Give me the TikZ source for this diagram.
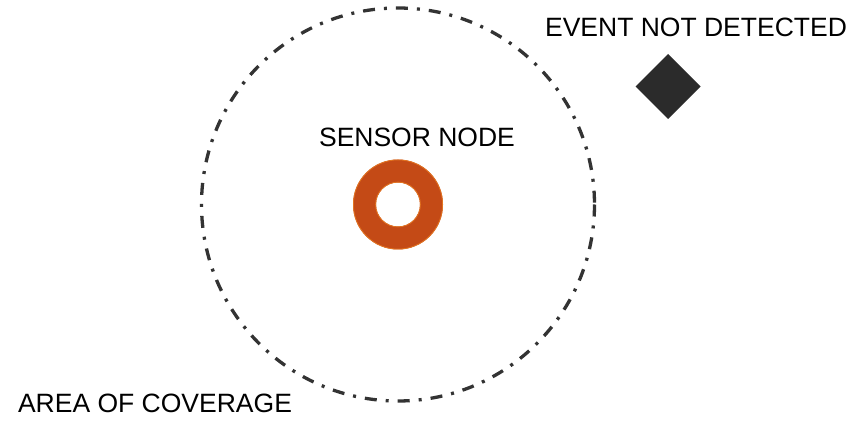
\documentclass[tikz,border=0pt]{standalone}
\usepackage{fontspec}
\setmainfont{Liberation Sans}
\definecolor{ringfill}{HTML}{C44A16}
\definecolor{ringedge}{HTML}{E2731F}
\definecolor{darkgray}{HTML}{2B2B2B}
\definecolor{lineg}{HTML}{333333}
\begin{document}
\begin{tikzpicture}[x=1pt,y=-1pt,
  lbl/.style={anchor=base,inner sep=0pt,font=\fontsize{26.5}{30}\selectfont,text=black},
  coverage/.style={draw=lineg,line width=3.3pt,dash pattern=on 12pt off 9pt on 3pt off 9pt},
]
\useasboundingbox (0,0) rectangle (852,427);
\fill[white] (0,0) rectangle (852,427);
\coordinate (c) at (398,204.5);
\draw[coverage] (c) circle[radius=196.5];
\fill[ringfill,even odd rule] (c) circle[radius=45] (c) circle[radius=22];
\draw[ringedge,line width=0.8pt] (c) circle[radius=44.6] (c) circle[radius=22.4];
\node (sensor) [draw=none,minimum size=90pt,circle,inner sep=0pt] at (c) {};
\fill[darkgray] (668,54) -- (700.5,86.5) -- (668,119) -- (635.5,86.5) -- cycle;
\node (event) [lbl] at (696,37) {EVENT NOT DETECTED};
\node (sensorlbl) [lbl] at (417,147) {SENSOR NODE};
\node (area) [lbl] at (155,413) {AREA OF COVERAGE};
\end{tikzpicture}
\end{document}
